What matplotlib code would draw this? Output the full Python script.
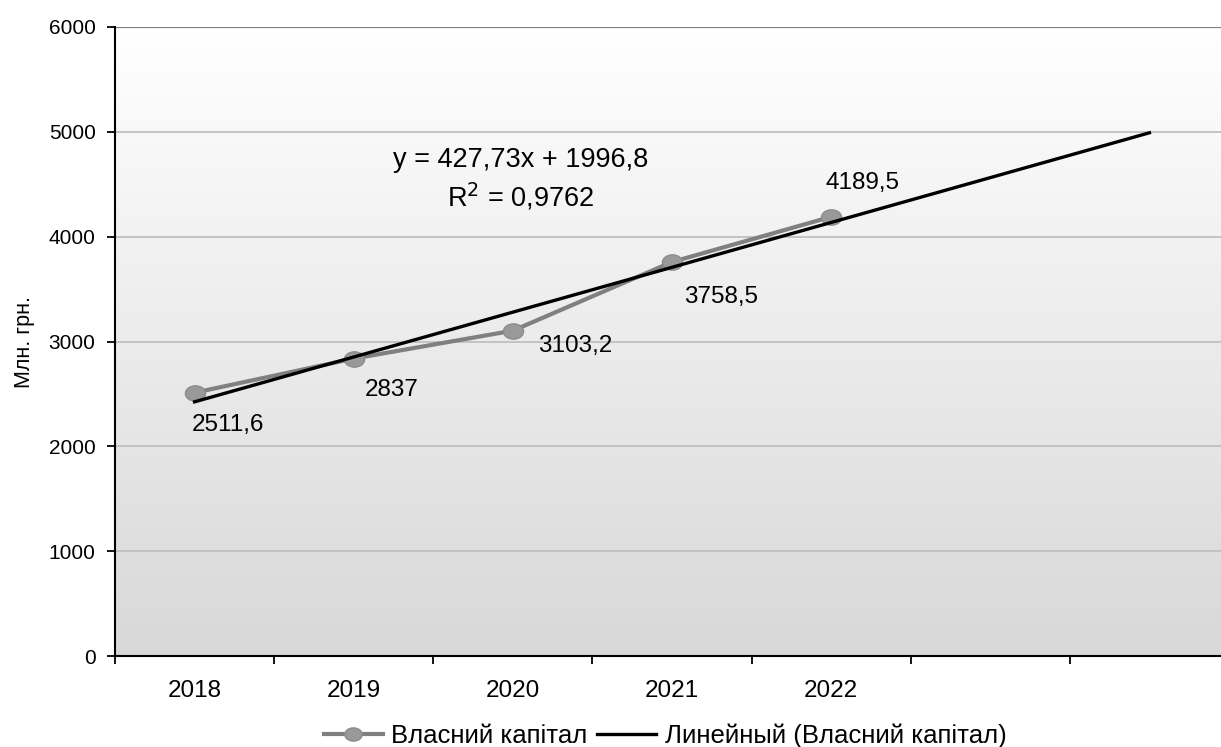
import numpy as np
import matplotlib
matplotlib.use("Agg")
import matplotlib.pyplot as plt
from matplotlib.lines import Line2D
from matplotlib.path import Path
from matplotlib.colors import LinearSegmentedColormap

plt.rcParams["font.family"] = ["Liberation Sans", "DejaVu Sans"]

# Власний капітал, млн. грн.
years = ["2018", "2019", "2020", "2021", "2022"]
equity = [2511.6, 2837, 3103.2, 3758.5, 4189.5]
label_text = ["2511,6", "2837", "3103,2", "3758,5", "4189,5"]
n_slots = 7          # two empty categories so the trend runs forward
y_ticks = [0, 1000, 2000, 3000, 4000, 5000, 6000]

x = np.arange(1, len(years) + 1)
slope, icpt = np.polyfit(x, equity, 1)
pred = slope * x + icpt
ss_res = np.sum((np.array(equity) - pred) ** 2)
ss_tot = np.sum((np.array(equity) - np.mean(equity)) ** 2)
r2 = 1 - ss_res / ss_tot

# slightly flattened circle for the series markers
circ = Path.unit_circle()
oval = Path(circ.vertices * [1.0, 0.76], circ.codes)

fig = plt.figure(figsize=(12.21, 7.47), dpi=100)
ax = fig.add_axes([115 / 1221, 91 / 747, 1114 / 1221, 629 / 747])
ax.set_xlim(0.5, n_slots + 0.5)
ax.set_ylim(0, 6000)

# plot-area fill: white at the top fading to light grey at the bottom
grad = np.linspace(0.0, 1.0, 256).reshape(-1, 1)
ax.imshow(grad, extent=[0.5, n_slots + 0.5, 0, 6000], aspect="auto",
          cmap=LinearSegmentedColormap.from_list("bg", ["#d8d8d8", "#ffffff"]),
          origin="lower", zorder=0)

for v in y_ticks[1:-1]:
    ax.axhline(v, color="#c0c0c0", lw=1.3, zorder=1)
ax.axhline(6000, color="#808080", lw=1.6, zorder=1)

ax.plot(x, equity, color="#808080", lw=3, marker=oval, ms=14.5,
        mfc="#999999", mec="#8c8c8c", mew=1, zorder=3)

xt = np.array([1, n_slots])
ax.plot(xt, slope * xt + icpt, color="black", lw=2.4, zorder=4)

offsets = [(0.21, -308), (0.24, -300), (0.39, -146), (0.31, -333), (0.20, 322)]
for xi, yi, txt, (dx, dy) in zip(x, equity, label_text, offsets):
    ax.text(xi + dx, yi + dy, txt, fontsize=17.5, ha="center", va="center",
            zorder=5)

eq = "y = {}x + {}".format(f"{slope:.2f}".replace(".", ","),
                            f"{icpt:.1f}".replace(".", ","))
ax.text(3.05, 4731, eq, fontsize=19.5, ha="center", va="center", zorder=5)
ax.text(3.05, 4378, "R$^2$ = " + f"{r2:.4f}".replace(".", ","),
        fontsize=19.5, ha="center", va="center", zorder=5)

ax.set_yticks(y_ticks)
ax.set_yticklabels([str(v) for v in y_ticks], fontsize=15)
ax.set_xticks(np.arange(0.5, n_slots + 0.5, 1))
ax.set_xticklabels([])
ax.tick_params(axis="y", direction="out", length=6, width=1.3, pad=8)
ax.tick_params(axis="x", direction="out", length=6, width=1.3)
for xi, yr in zip(x, years):
    ax.text(xi, -330, yr, fontsize=17.5, ha="center", va="center")

ax.spines["right"].set_visible(False)
ax.spines["top"].set_visible(False)
ax.spines["left"].set_linewidth(1.5)
ax.spines["bottom"].set_linewidth(1.5)

ax.set_ylabel("Млн. грн.", fontsize=15.5, labelpad=10)

handles = [
    Line2D([], [], color="#808080", lw=3, marker=oval, ms=12.5,
           mfc="#999999", mec="#8c8c8c", mew=1),
    Line2D([], [], color="black", lw=2.4),
]
fig.legend(handles, ["Власний капітал", "Линейный (Власний капітал)"],
           loc="center", bbox_to_anchor=(665 / 1221, 1 - 736 / 747),
           ncol=2, frameon=False, fontsize=18.5, handlelength=2.3,
           handletextpad=0.32, columnspacing=0.4)

fig.savefig("out.png", dpi=100)
